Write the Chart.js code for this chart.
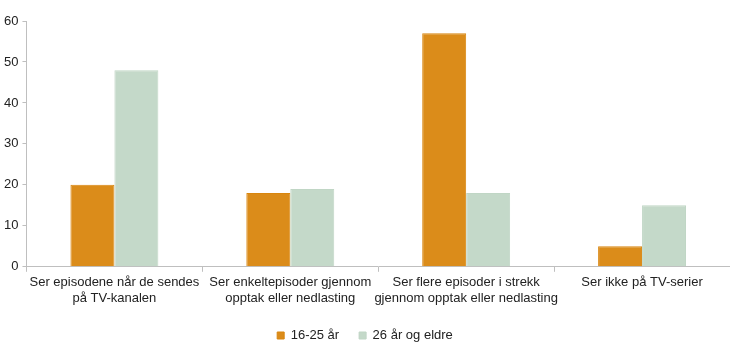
<!DOCTYPE html>
<html>
<head>
<meta charset="utf-8">
<script src="https://cdn.jsdelivr.net/npm/chart.js@4/dist/chart.umd.min.js"></script>
<style>
html,body{margin:0;padding:0;background:#fff;}
#wrap{width:730px;height:357px;position:relative;}
</style>
</head>
<body>
<div id="wrap"><canvas id="c" width="730" height="357"></canvas></div>
<script>
const categories = [
  ["Ser episodene når de sendes", "på TV-kanalen"],
  ["Ser enkeltepisoder gjennom", "opptak eller nedlasting"],
  ["Ser flere episoder i strekk", "gjennom opptak eller nedlasting"],
  ["Ser ikke på TV-serier"]
];
const seriesNames = ["16-25 år", "26 år og eldre"];
const young = [20, 18, 57, 5];
const older = [48, 19, 18, 15];
const yTicks = [0, 10, 20, 30, 40, 50, 60];

Chart.defaults.font.family = "'Liberation Sans', Arial, sans-serif";
Chart.defaults.font.size = 13;
Chart.defaults.color = "#222";

new Chart(document.getElementById('c'), {
  type: 'bar',
  data: {
    labels: categories,
    datasets: [
      {label: seriesNames[0], data: young, backgroundColor: '#db8c1a', borderColor: '#d9860f', borderWidth: 1, categoryPercentage: 0.5, barPercentage: 1},
      {label: seriesNames[1], data: older, backgroundColor: '#c4d9c9', borderColor: '#c0d6c5', borderWidth: 1, categoryPercentage: 0.5, barPercentage: 1}
    ]
  },
  options: {
    responsive: false,
    animation: false,
    layout: {padding: {top: 21, right: 0, left: 0, bottom: 5}},
    plugins: {
      legend: {
        position: 'bottom',
        labels: {boxWidth: 7, boxHeight: 7, padding: 20, font: {size: 13}, color: '#222'}
      },
      tooltip: {enabled: false}
    },
    scales: {
      x: {
        grid: {display: true, drawOnChartArea: false, color: '#bfbfbf', tickLength: 5, offset: true},
        border: {color: '#bfbfbf'},
        ticks: {maxRotation: 0, autoSkip: false, padding: 3, font: {size: 13}, color: '#222'}
      },
      y: {
        min: 0, max: 60,
        afterBuildTicks: (ax) => { ax.ticks = yTicks.map(v => ({value: v})); },
        grid: {display: true, drawOnChartArea: false, color: '#bfbfbf', tickLength: 4},
        border: {color: '#bfbfbf'},
        ticks: {padding: 4, font: {size: 13}, color: '#222'}
      }
    }
  }
});
</script>
</body>
</html>
